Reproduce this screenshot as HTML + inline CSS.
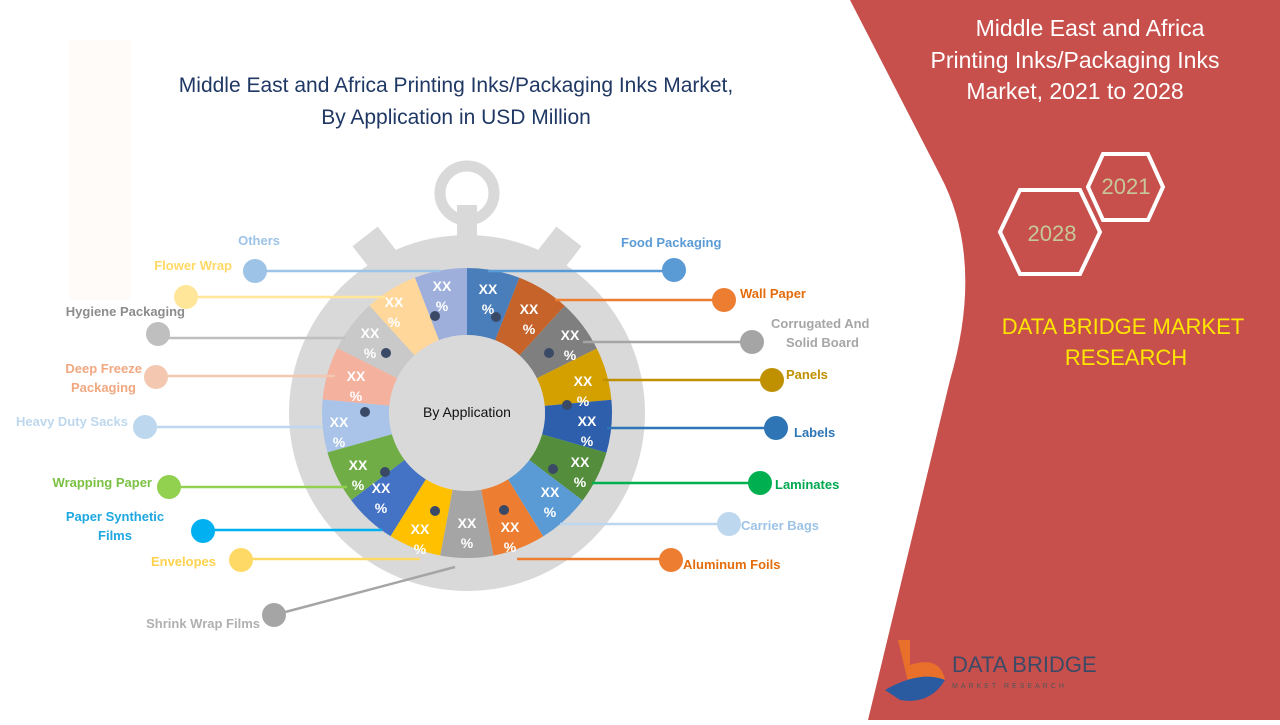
<!DOCTYPE html>
<html><head><meta charset="utf-8"><style>
body{margin:0;width:1280px;height:720px;overflow:hidden;background:#fff;font-family:"Liberation Sans",sans-serif}
svg text{font-family:"Liberation Sans",sans-serif}
</style></head><body>
<svg width="1280" height="720" viewBox="0 0 1280 720" xmlns="http://www.w3.org/2000/svg">
<rect width="1280" height="720" fill="#fff"/>
<g opacity="0.03" fill="#e97b3a"><rect x="70" y="40" width="60" height="260"/></g>
<path d="M850 0 L1280 0 L1280 720 L868 720 L950 380 Q985 260 940 175 Z" fill="#c8504c"/>
<text x="1090" y="36" font-size="23" fill="#fff" text-anchor="middle">Middle East and Africa</text>
<text x="1075" y="68" font-size="23" fill="#fff" text-anchor="middle">Printing Inks/Packaging Inks</text>
<text x="1075" y="99" font-size="23" fill="#fff" text-anchor="middle">Market, 2021 to 2028</text>
<polygon points="1088,187 1103,154 1148,154 1163,187 1148,220 1103,220" fill="none" stroke="#fff" stroke-width="4"/>
<text x="1126" y="194" font-size="22" fill="#c6c89a" text-anchor="middle">2021</text>
<polygon points="1000,232 1020,190 1080,190 1100,232 1080,274 1020,274" fill="none" stroke="#fff" stroke-width="4"/>
<text x="1052" y="241" font-size="22" fill="#c6c89a" text-anchor="middle">2028</text>
<text x="1123" y="334" font-size="22" fill="#ffe600" text-anchor="middle">DATA BRIDGE MARKET</text>
<text x="1126" y="365" font-size="22" fill="#ffe600" text-anchor="middle">RESEARCH</text>
<path d="M898 640 L910 640 L910 665 Q940 655 945 680 L910 690 Z" fill="#e8702a"/>
<path d="M885 690 Q920 670 945 680 Q930 705 900 700Z" fill="#2a5aa0"/>
<text x="952" y="672" font-size="22" fill="#3d4a66" font-family="Liberation Serif">DATA BRIDGE</text>
<text x="952" y="688" font-size="7" fill="#555" letter-spacing="3">MARKET RESEARCH</text>
<text x="456" y="92" font-size="21" fill="#1f3864" text-anchor="middle">Middle East and Africa Printing Inks/Packaging Inks Market,</text>
<text x="456" y="124" font-size="21" fill="#1f3864" text-anchor="middle">By Application in USD Million</text>
<g fill="#d9d9d9">
<circle cx="467" cy="413" r="178"/>
<circle cx="467" cy="193" r="27" fill="none" stroke="#d9d9d9" stroke-width="11"/>
<rect x="457" y="205" width="20" height="40"/>
<rect x="362" y="232" width="32" height="42" transform="rotate(-38 378 253)"/>
<rect x="540" y="232" width="32" height="42" transform="rotate(38 556 253)"/>
</g>
<g transform="rotate(-90 467 413)" fill="none" stroke-width="67">
<circle cx="467" cy="413" r="111.5" stroke="#4a7ebb" stroke-dasharray="41.21 700.6" stroke-dashoffset="0"/>
<circle cx="467" cy="413" r="111.5" stroke="#c5632a" stroke-dasharray="41.21 700.6" stroke-dashoffset="-41.21"/>
<circle cx="467" cy="413" r="111.5" stroke="#7f7f7f" stroke-dasharray="41.21 700.6" stroke-dashoffset="-82.42"/>
<circle cx="467" cy="413" r="111.5" stroke="#d4a000" stroke-dasharray="41.21 700.6" stroke-dashoffset="-123.63"/>
<circle cx="467" cy="413" r="111.5" stroke="#2e5fac" stroke-dasharray="41.21 700.6" stroke-dashoffset="-164.84"/>
<circle cx="467" cy="413" r="111.5" stroke="#548d3c" stroke-dasharray="41.21 700.6" stroke-dashoffset="-206.05"/>
<circle cx="467" cy="413" r="111.5" stroke="#5b9bd5" stroke-dasharray="41.21 700.6" stroke-dashoffset="-247.26"/>
<circle cx="467" cy="413" r="111.5" stroke="#ed7d31" stroke-dasharray="41.21 700.6" stroke-dashoffset="-288.47"/>
<circle cx="467" cy="413" r="111.5" stroke="#a5a5a5" stroke-dasharray="41.21 700.6" stroke-dashoffset="-329.68"/>
<circle cx="467" cy="413" r="111.5" stroke="#ffc000" stroke-dasharray="41.21 700.6" stroke-dashoffset="-370.89"/>
<circle cx="467" cy="413" r="111.5" stroke="#4472c4" stroke-dasharray="41.21 700.6" stroke-dashoffset="-412.1"/>
<circle cx="467" cy="413" r="111.5" stroke="#70ad47" stroke-dasharray="41.21 700.6" stroke-dashoffset="-453.31"/>
<circle cx="467" cy="413" r="111.5" stroke="#a9c4e8" stroke-dasharray="41.21 700.6" stroke-dashoffset="-494.52"/>
<circle cx="467" cy="413" r="111.5" stroke="#f4b19e" stroke-dasharray="41.21 700.6" stroke-dashoffset="-535.73"/>
<circle cx="467" cy="413" r="111.5" stroke="#c9c9c9" stroke-dasharray="41.21 700.6" stroke-dashoffset="-576.94"/>
<circle cx="467" cy="413" r="111.5" stroke="#ffd79a" stroke-dasharray="41.21 700.6" stroke-dashoffset="-618.15"/>
<circle cx="467" cy="413" r="111.5" stroke="#9fafdb" stroke-dasharray="41.21 700.6" stroke-dashoffset="-659.36"/>
</g>
<circle cx="467" cy="413" r="78" fill="#d9d9d9"/>
<text x="467" y="417" font-size="14" fill="#111" text-anchor="middle">By Application</text>
<g stroke-width="2.5" fill="none">
<line x1="255" y1="271" x2="440" y2="271" stroke="#9dc3e6"/>
<line x1="186" y1="297" x2="385" y2="297" stroke="#ffe699"/>
<line x1="158" y1="338" x2="345" y2="338" stroke="#bfbfbf"/>
<line x1="156" y1="376" x2="335" y2="376" stroke="#f4c7b0"/>
<line x1="145" y1="427" x2="322" y2="427" stroke="#bdd7ee"/>
<line x1="169" y1="487" x2="347" y2="487" stroke="#92d050"/>
<line x1="203" y1="530" x2="382" y2="530" stroke="#00b0f0"/>
<line x1="241" y1="559" x2="420" y2="559" stroke="#ffd966"/>
<line x1="274" y1="615" x2="455" y2="567" stroke="#a5a5a5"/>
<line x1="488" y1="271" x2="674" y2="271" stroke="#5b9bd5"/>
<line x1="555" y1="300" x2="724" y2="300" stroke="#ed7d31"/>
<line x1="583" y1="342" x2="752" y2="342" stroke="#a5a5a5"/>
<line x1="603" y1="380" x2="772" y2="380" stroke="#bf9000"/>
<line x1="607" y1="428" x2="776" y2="428" stroke="#2e75b6"/>
<line x1="592" y1="483" x2="760" y2="483" stroke="#00b050"/>
<line x1="560" y1="524" x2="729" y2="524" stroke="#bdd7ee"/>
<line x1="517" y1="559" x2="671" y2="559" stroke="#ed7d31"/>
</g>
<g>
<circle cx="255" cy="271" r="12" fill="#9dc3e6"/><circle cx="186" cy="297" r="12" fill="#ffe699"/>
<circle cx="158" cy="334" r="12" fill="#bfbfbf"/><circle cx="156" cy="377" r="12" fill="#f4c7b0"/>
<circle cx="145" cy="427" r="12" fill="#bdd7ee"/><circle cx="169" cy="487" r="12" fill="#92d050"/>
<circle cx="203" cy="531" r="12" fill="#00b0f0"/><circle cx="241" cy="560" r="12" fill="#ffd966"/>
<circle cx="274" cy="615" r="12" fill="#a5a5a5"/>
<circle cx="674" cy="270" r="12" fill="#5b9bd5"/><circle cx="724" cy="300" r="12" fill="#ed7d31"/>
<circle cx="752" cy="342" r="12" fill="#a5a5a5"/><circle cx="772" cy="380" r="12" fill="#bf9000"/>
<circle cx="776" cy="428" r="12" fill="#2e75b6"/><circle cx="760" cy="483" r="12" fill="#00b050"/>
<circle cx="729" cy="524" r="12" fill="#bdd7ee"/><circle cx="671" cy="560" r="12" fill="#ed7d31"/>
</g>
<g font-size="13" font-weight="bold">
<text x="280" y="245" fill="#9dc3e6" text-anchor="end">Others</text>
<text x="232" y="270" fill="#ffd966" text-anchor="end">Flower Wrap</text>
<text x="185" y="316" fill="#8c8c8c" text-anchor="end">Hygiene Packaging</text>
<text x="142" y="373" fill="#f0a880" text-anchor="end">Deep Freeze</text>
<text x="136" y="392" fill="#f0a880" text-anchor="end">Packaging</text>
<text x="128" y="426" fill="#bdd7ee" text-anchor="end">Heavy Duty Sacks</text>
<text x="152" y="487" fill="#7ac143" text-anchor="end">Wrapping Paper</text>
<text x="115" y="521" fill="#1ea7e1" text-anchor="middle">Paper Synthetic</text>
<text x="115" y="540" fill="#1ea7e1" text-anchor="middle">Films</text>
<text x="216" y="566" fill="#ffd24d" text-anchor="end">Envelopes</text>
<text x="260" y="628" fill="#b0b0b0" text-anchor="end">Shrink Wrap Films</text>
<text x="621" y="247" fill="#5b9bd5">Food Packaging</text>
<text x="740" y="298" fill="#e46c0a">Wall Paper</text>
<text x="771" y="328" fill="#a6a6a6">Corrugated And</text>
<text x="786" y="347" fill="#a6a6a6">Solid Board</text>
<text x="786" y="379" fill="#bf9000">Panels</text>
<text x="794" y="437" fill="#2e75b6">Labels</text>
<text x="775" y="489" fill="#00a84f">Laminates</text>
<text x="741" y="530" fill="#9dc3e6">Carrier Bags</text>
<text x="683" y="569" fill="#e46c0a">Aluminum Foils</text>
</g>
<g font-size="14" font-weight="bold" fill="#fff" text-anchor="middle">
<text x="488" y="294">XX</text><text x="488" y="314">%</text>
<text x="529" y="314">XX</text><text x="529" y="334">%</text>
<text x="570" y="340">XX</text><text x="570" y="360">%</text>
<text x="583" y="386">XX</text><text x="583" y="406">%</text>
<text x="587" y="426">XX</text><text x="587" y="446">%</text>
<text x="580" y="467">XX</text><text x="580" y="487">%</text>
<text x="550" y="497">XX</text><text x="550" y="517">%</text>
<text x="510" y="532">XX</text><text x="510" y="552">%</text>
<text x="467" y="528">XX</text><text x="467" y="548">%</text>
<text x="420" y="534">XX</text><text x="420" y="554">%</text>
<text x="381" y="493">XX</text><text x="381" y="513">%</text>
<text x="358" y="470">XX</text><text x="358" y="490">%</text>
<text x="339" y="427">XX</text><text x="339" y="447">%</text>
<text x="356" y="381">XX</text><text x="356" y="401">%</text>
<text x="370" y="338">XX</text><text x="370" y="358">%</text>
<text x="394" y="307">XX</text><text x="394" y="327">%</text>
<text x="442" y="291">XX</text><text x="442" y="311">%</text>
</g>
<g fill="#3a4a66">
<circle cx="435" cy="316" r="5"/><circle cx="496" cy="317" r="5"/><circle cx="549" cy="353" r="5"/>
<circle cx="567" cy="405" r="5"/><circle cx="553" cy="469" r="5"/><circle cx="504" cy="510" r="5"/>
<circle cx="435" cy="511" r="5"/><circle cx="385" cy="472" r="5"/><circle cx="365" cy="412" r="5"/>
<circle cx="386" cy="353" r="5"/>
</g>
</svg>
</body></html>
